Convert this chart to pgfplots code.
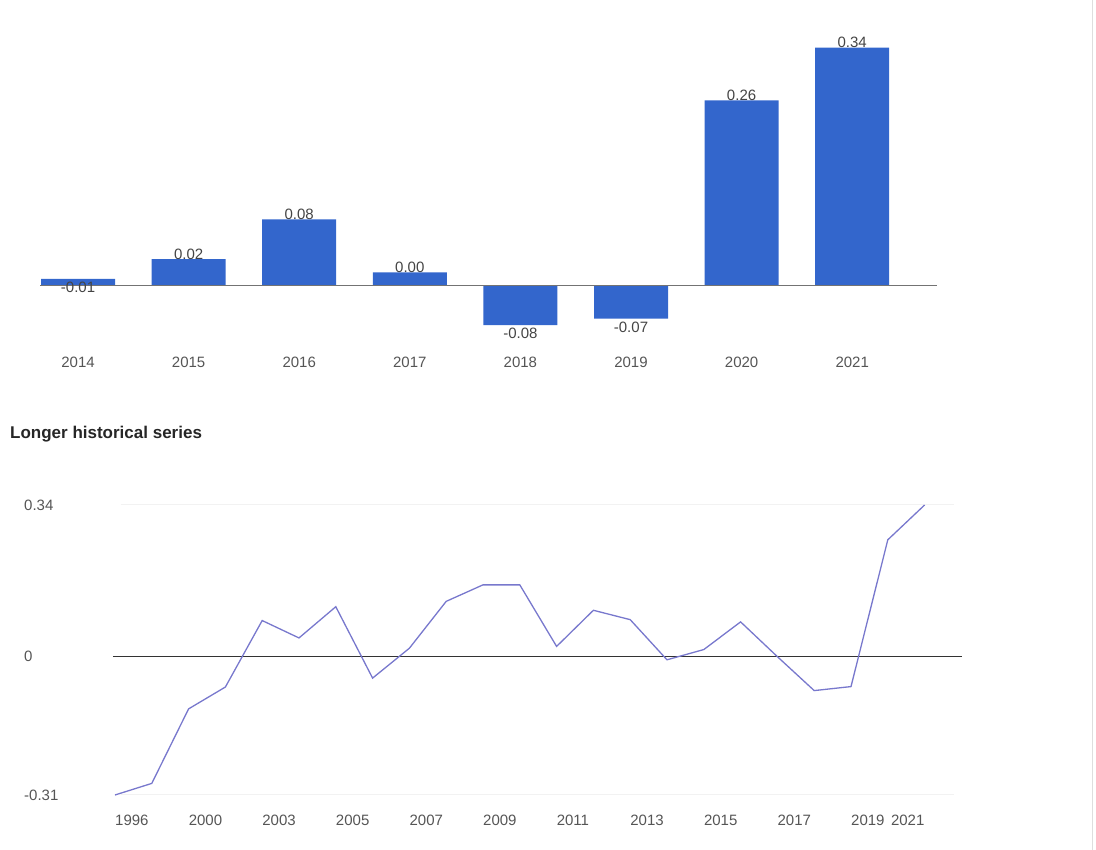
\documentclass[border=0pt]{standalone}
\usepackage{fontspec}
\setmainfont{Liberation Sans}
\usepackage{pgfplots}
\usepackage{pgfplotstable}
\pgfplotsset{compat=1.18}
\definecolor{barblue}{HTML}{3366CC}
\definecolor{linecol}{RGB}{120,120,205}
\definecolor{ticktext}{HTML}{555555}
\definecolor{valtext}{HTML}{444444}

% bars whose value label sits above the bar end
\pgfplotstableread{
i v lab
1 0.02 0.02
2 0.08 0.08
3 0.00 0.00
6 0.26 0.26
7 0.34 0.34
}\barup
% bars whose value label sits below the bar end
\pgfplotstableread{
i v lab
0 -0.01 -0.01
4 -0.08 -0.08
5 -0.07 -0.07
}\bardown

\pgfplotstableread{
i v
0 -0.310
1 -0.284
2 -0.117
3 -0.068
4 0.081
5 0.042
6 0.112
7 -0.048
8 0.019
9 0.124
10 0.161
11 0.161
12 0.023
13 0.104
14 0.083
15 -0.007
16 0.016
17 0.078
18 0.000
19 -0.076
20 -0.067
21 0.262
22 0.340
}\linedata

\begin{document}
\begin{tikzpicture}[x=1pt,y=1pt]
\useasboundingbox (0,0) rectangle (1096,850);
\draw[color=black!13, line width=1pt] (1092,0) -- (1092,850);
\node[anchor=west, inner sep=0pt, font=\fontsize{17}{20}\selectfont\bfseries, text={black!85}] at (10,416) {Longer historical series};

\begin{axis}[
  at={(40pt,505pt)}, anchor=south west,
  scale only axis, width=897pt, height=325pt,
  xmin=-0.344, xmax=7.767, ymin=-0.090, ymax=0.4017,
  axis line style={draw=none}, major tick length=0pt, ytick=\empty,
  xtick={0,1,2,3,4,5,6,7},
  xticklabels={2014,2015,2016,2017,2018,2019,2020,2021},
  xticklabel style={font=\fontsize{15}{18}\selectfont, text=ticktext, inner sep=0pt, anchor=north, yshift=-12pt},
  ybar, bar width=74pt, bar shift=0pt,
  clip=false,
]
\addplot[fill=barblue, draw=none,
  nodes near coords, point meta=explicit symbolic,
  every node near coord/.append style={anchor=south, font=\fontsize{15}{18}\selectfont, text=valtext, inner sep=0pt, yshift=-0.5pt}]
  table[x=i, y expr=\thisrow{v}+0.02, meta=lab]{\barup};
\addplot[fill=barblue, draw=none,
  nodes near coords, point meta=explicit symbolic,
  every node near coord/.append style={anchor=north, font=\fontsize{15}{18}\selectfont, text=valtext, inner sep=0pt, yshift=-3pt}]
  table[x=i, y expr=\thisrow{v}+0.02, meta=lab]{\bardown};
\draw[color=black!55, line width=1pt] (axis cs:-0.344,0) -- (axis cs:7.767,0);
\end{axis}

\begin{axis}[
  at={(113pt,55pt)}, anchor=south west,
  scale only axis, width=849pt, height=290pt,
  xmin=-0.054, xmax=23.016, ymin=-0.31, ymax=0.34,
  axis line style={draw=none}, major tick length=0pt,
  xtick={0,2,...,20},
  xticklabels={1996,2000,2003,2005,2007,2009,2011,2013,2015,2017,2019},
  xticklabel style={font=\fontsize{15}{18}\selectfont, text=ticktext, inner sep=0pt, anchor=north west, yshift=-19.5pt},
  extra x ticks={22}, extra x tick labels={2021},
  extra x tick style={xticklabel style={anchor=north east}},
  ytick={-0.31,0,0.34}, yticklabels={-0.31,0,0.34},
  yticklabel style={font=\fontsize{15}{18}\selectfont, text=ticktext, inner sep=0pt, anchor=west, xshift=-89pt},
  clip=false,
]
\draw[color=black!5, line width=1pt] (axis cs:0.15,0.34) -- (axis cs:22.8,0.34);
\draw[color=black!5, line width=1pt] (axis cs:0.15,-0.31) -- (axis cs:22.8,-0.31);
\draw[color=black!80, line width=1.3pt] (axis cs:-0.054,0) -- (axis cs:23.016,0);
\addplot[linecol, line width=1.3pt] table[x=i, y=v]{\linedata};
\end{axis}
\end{tikzpicture}
\end{document}
